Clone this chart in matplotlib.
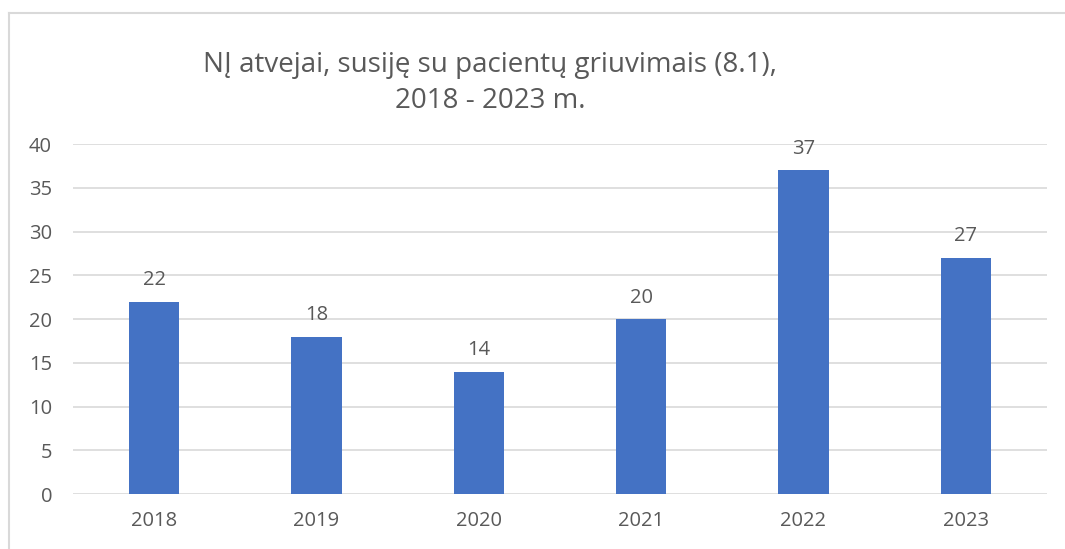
import matplotlib
matplotlib.use("Agg")
import matplotlib.pyplot as plt
from matplotlib.lines import Line2D

years = ["2018", "2019", "2020", "2021", "2022", "2023"]
cases = [22, 18, 14, 20, 37, 27]
yticks = [0, 5, 10, 15, 20, 25, 30, 35, 40]

BAR = "#4472C4"
TXT = "#595959"
GRID = "#D9D9D9"

plt.rcParams["font.family"] = ["Open Sans", "DejaVu Sans"]

fig = plt.figure(figsize=(10.65, 5.49), dpi=100)
ax = fig.add_axes([0.0685, 0.100, 0.9145, 0.6377])

x = range(len(years))
bars = ax.bar(x, cases, width=0.31, color=BAR, zorder=3)
for b, v in zip(bars, cases):
    ax.text(b.get_x() + b.get_width() / 2, v + 1.3, str(v),
            ha="center", va="bottom", fontsize=14.5, color=TXT)

ax.set_xlim(-0.5, len(years) - 0.5)
ax.set_ylim(0, 40)
ax.set_yticks(yticks)
ax.set_xticks(list(x))
ax.set_xticklabels(years)
ax.tick_params(axis="both", length=0, labelsize=14.5, labelcolor=TXT)
ax.tick_params(axis="y", pad=15)
ax.tick_params(axis="x", pad=12)
ax.grid(axis="y", color=GRID, lw=1.2, zorder=0)
for s in ax.spines.values():
    s.set_visible(False)

fig.text(0.46, 0.849, "NĮ atvejai, susiję su pacientų griuvimais (8.1),\n2018 - 2023 m.",
         ha="center", va="center", fontsize=20, color=TXT, linespacing=1.4)

# chart frame (partly cropped in the original)
fig.add_artist(Line2D([9 / 1065, 9 / 1065], [0, 1 - 13 / 549], color=GRID, lw=1.5))
fig.add_artist(Line2D([9 / 1065, 1], [1 - 13 / 549, 1 - 13 / 549], color=GRID, lw=1.5))

fig.savefig("out.png", dpi=100, facecolor="white")
